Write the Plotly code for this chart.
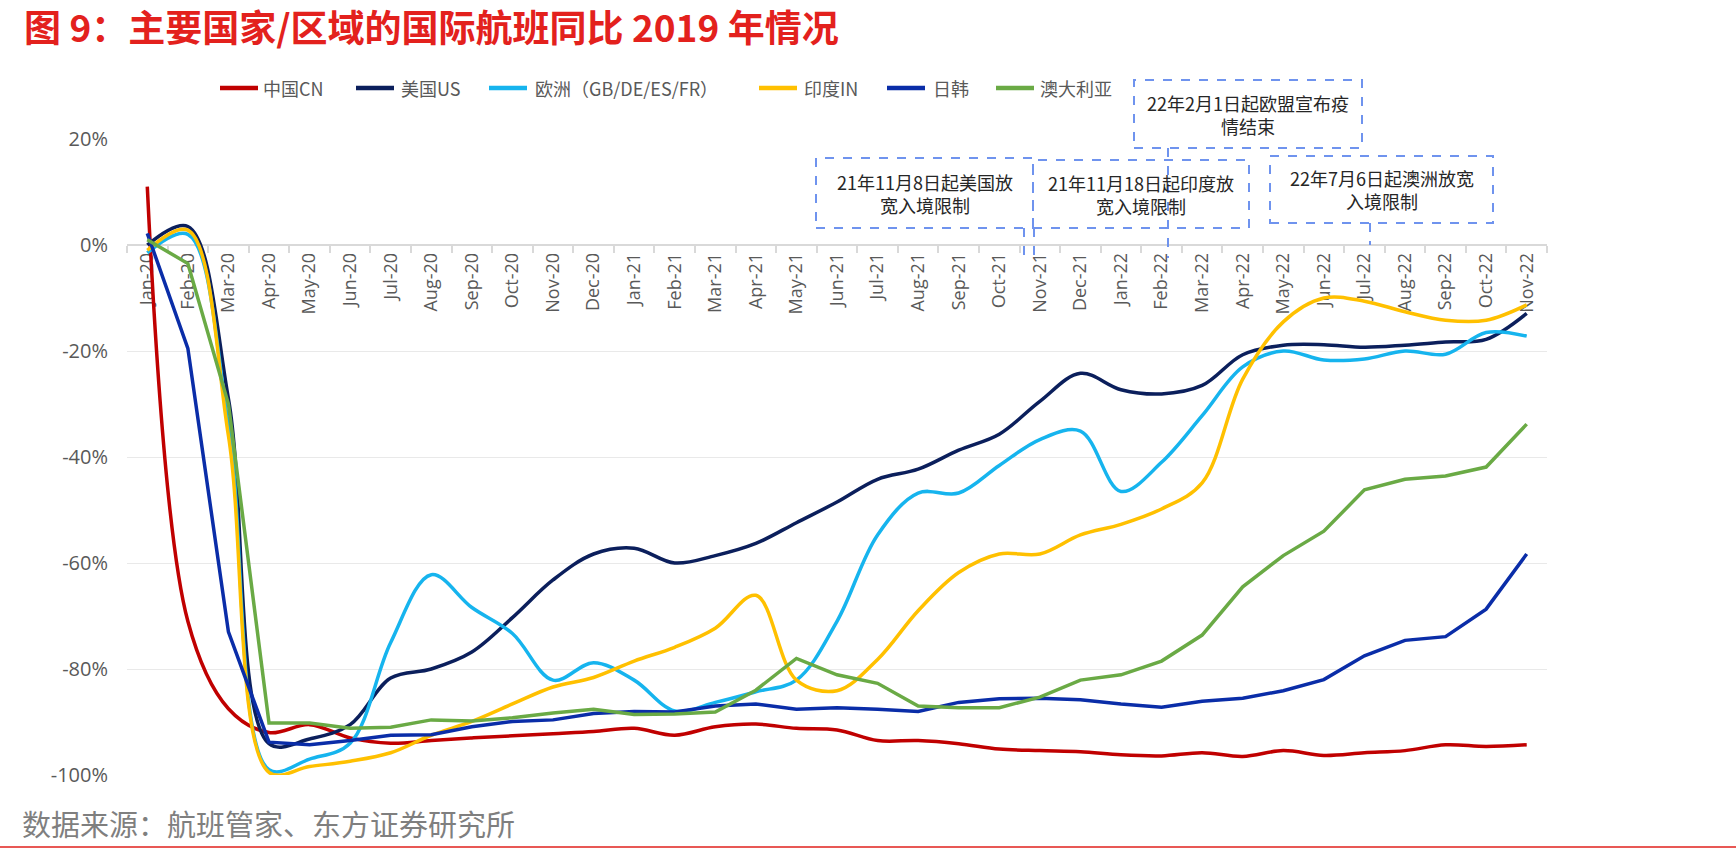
import plotly.graph_objects as go

# ---------------- data ----------------
months = ["Jan-20", "Feb-20", "Mar-20", "Apr-20", "May-20", "Jun-20", "Jul-20", "Aug-20", "Sep-20",
          "Oct-20", "Nov-20", "Dec-20", "Jan-21", "Feb-21", "Mar-21", "Apr-21", "May-21", "Jun-21",
          "Jul-21", "Aug-21", "Sep-21", "Oct-21", "Nov-21", "Dec-21", "Jan-22", "Feb-22", "Mar-22",
          "Apr-22", "May-22", "Jun-22", "Jul-22", "Aug-22", "Sep-22", "Oct-22", "Nov-22"]

cn = [11, -71, -87.5, -92, -90.5, -93, -94, -93.5, -93, -92.6, -92.2, -91.8,
      -91.2, -92.5, -90.9, -90.4, -91.2, -91.5, -93.5, -93.5, -94.1, -95.1, -95.4, -95.6,
      -96.2, -96.4, -95.8, -96.5, -95.4, -96.3, -95.8, -95.4, -94.3, -94.6, -94.3]
us = [0, 3.5, -29, -94.1, -93.2, -90.5, -81.7, -80, -76.8, -70.3, -63.2, -58.3,
      -57.2, -60, -58.6, -56.3, -52.4, -48.5, -44.2, -42.3, -38.7, -35.7, -29.5, -24.2,
      -27.3, -28.1, -26.5, -20.7, -18.9, -18.8, -19.3, -18.9, -18.3, -17.8, -12.9]
eu = [-1.5, 2, -34, -99, -97, -94, -75, -62.2, -68.4, -73.3, -82.1, -78.8,
      -82.1, -87.9, -86.3, -84.3, -82.1, -71, -54.7, -46.8, -46.8, -41.6, -36.7, -35.1,
      -46.5, -41, -32.2, -23, -20, -21.7, -21.5, -20, -20.6, -16.5, -17.2]
india = [-1, 2.8, -36, -99.5, -98.4, -97.4, -95.8, -92.5, -89.9, -86.6, -83.4, -81.6,
         -78.5, -75.9, -72.3, -66.1, -82.1, -84.1, -78.2, -69, -61.8, -58.3, -58.3, -54.7,
         -52.7, -49.8, -44.9, -25.3, -14.5, -10, -10.6, -12.6, -14.2, -14.2, -11.3]
jpkr = [2.2, -19.5, -73, -93.8, -94.3, -93.5, -92.5, -92.4, -90.9, -89.9, -89.6, -88.4,
        -88, -88.1, -87, -86.6, -87.6, -87.3, -87.6, -88, -86.3, -85.6, -85.5, -85.8,
        -86.6, -87.2, -86.1, -85.5, -84.1, -82, -77.5, -74.6, -73.9, -68.7, -58.3]
au = [1, -3.5, -30, -90.2, -90.2, -91.2, -91, -89.6, -89.8, -89.2, -88.3, -87.6,
      -88.6, -88.5, -88.1, -84, -78, -81.1, -82.7, -87, -87.3, -87.3, -85.3, -82.1,
      -81.1, -78.5, -73.6, -64.5, -58.6, -54, -46.2, -44.2, -43.6, -41.9, -33.8]

series_names = ["中国CN", "美国US", "欧洲（GB/DE/ES/FR）", "印度IN", "日韩", "澳大利亚"]
series_values = [cn, us, eu, india, jpkr, au]
series_colors = ["#C00000", "#0B1F5C", "#16B4EE", "#FFC000", "#0A2DA8", "#6AAA45"]
series_shapes = ["spline", "spline", "spline", "spline", "linear", "linear"]

y_tick_vals = [20, 0, -20, -40, -60, -80, -100]
y_tick_text = ["20%", "0%", "-20%", "-40%", "-60%", "-80%", "-100%"]

notes = ["21年11月8日起美国放<br>宽入境限制", "21年11月18日起印度放<br>宽入境限制",
         "22年2月1日起欧盟宣布疫<br>情结束", "22年7月6日起澳洲放宽<br>入境限制"]

# ---------------- layout helpers (pixel -> paper) ----------------
FW, FH = 1736, 853
ML, MR, MT, MB = 127, 189, 139, 78
PW, PH = FW - ML - MR, FH - MT - MB


def px(X):
    return (X - ML) / PW


def py(Y):
    return (FH - MB - Y) / PH


CJK = "Noto Sans CJK SC"
fig = go.Figure()

for name, vals, col, shp in zip(series_names, series_values, series_colors, series_shapes):
    fig.add_trace(go.Scatter(
        x=months, y=vals, name=name, mode="lines",
        line=dict(color=col, width=3.5, shape=shp, smoothing=1.0 if shp == "spline" else None),
        showlegend=False, hoverinfo="x+y+name"))

shapes = []
annotations = []

# manual legend
leg_y = 88
leg_items = [(220, 261), (356, 399), (489, 533), (759, 802), (887, 931), (996, 1038)]
for (lx, tx), name, col in zip(leg_items, series_names, series_colors):
    shapes.append(dict(type="line", xref="paper", yref="paper", x0=px(lx), x1=px(lx + 38),
                       y0=py(leg_y), y1=py(leg_y), line=dict(color=col, width=4.5)))
    annotations.append(dict(xref="paper", yref="paper", x=px(tx), y=py(leg_y), text=name,
                            showarrow=False, xanchor="left", yanchor="middle",
                            font=dict(family=CJK, size=18, color="#595959")))

# annotation boxes
box_col = "#6F93EE"
boxes = [(816, 1033, 158, 228), (1033, 1249, 160, 228), (1134, 1362, 80, 148), (1270, 1493, 156, 223)]
for (x0, x1, y0, y1), txt in zip(boxes, notes):
    shapes.append(dict(type="rect", xref="paper", yref="paper", x0=px(x0), x1=px(x1),
                       y0=py(y1), y1=py(y0), line=dict(color=box_col, width=2, dash="dash"),
                       fillcolor="rgba(0,0,0,0)"))
    annotations.append(dict(xref="paper", yref="paper", x=px((x0 + x1) / 2), y=py((y0 + y1) / 2),
                            text=txt, showarrow=False, xanchor="center", yanchor="middle",
                            align="center", font=dict(family=CJK, size=18, color="#262626")))

# connectors
connectors = [(1024, 228, 258), (1034, 228, 258), (1168, 148, 258), (1370, 223, 245)]
for cx, cy0, cy1 in connectors:
    shapes.append(dict(type="line", xref="paper", yref="paper", x0=px(cx), x1=px(cx),
                       y0=py(cy0), y1=py(cy1), line=dict(color=box_col, width=2, dash="dash")))

# bottom red rule
shapes.append(dict(type="line", xref="paper", yref="paper", x0=px(0), x1=px(FW),
                   y0=py(847), y1=py(847), line=dict(color="#E0201C", width=1.5)))

# title & source
annotations.append(dict(xref="paper", yref="paper", x=px(22), y=py(26),
                        text="<b>图 9：主要国家/区域的国际航班同比 2019 年情况</b>", showarrow=False,
                        xanchor="left", yanchor="middle",
                        font=dict(family=CJK, size=37, color="#E3211D")))
annotations.append(dict(xref="paper", yref="paper", x=px(20), y=py(823),
                        text="数据来源：航班管家、东方证券研究所", showarrow=False,
                        xanchor="left", yanchor="middle",
                        font=dict(family=CJK, size=29, color="#7F7F7F")))

fig.update_layout(
    width=FW, height=FH,
    margin=dict(l=ML, r=MR, t=MT, b=MB, pad=0),
    paper_bgcolor="white", plot_bgcolor="white",
    shapes=shapes, annotations=annotations,
    xaxis=dict(type="category", categoryorder="array", categoryarray=months,
               range=[-0.5, len(months) - 0.5],
               anchor="free", position=100 / 120,
               showline=True, linecolor="#D9D9D9", linewidth=1.5,
               ticks="outside", tickson="boundaries", ticklen=7, tickcolor="#D9D9D9", tickwidth=1.5,
               tickangle=-90, showgrid=False, zeroline=False, layer="below traces",
               tickfont=dict(family="Open Sans", size=18, color="#595959")),
    yaxis=dict(range=[-100, 20], tickvals=y_tick_vals, ticktext=y_tick_text,
               showgrid=True, gridcolor="#E9E9E9", gridwidth=1.2, zeroline=False,
               showline=False, ticks="", ticklabelstandoff=18,
               tickfont=dict(family="Open Sans", size=20, color="#595959")),
)

fig.write_html("out.html")
